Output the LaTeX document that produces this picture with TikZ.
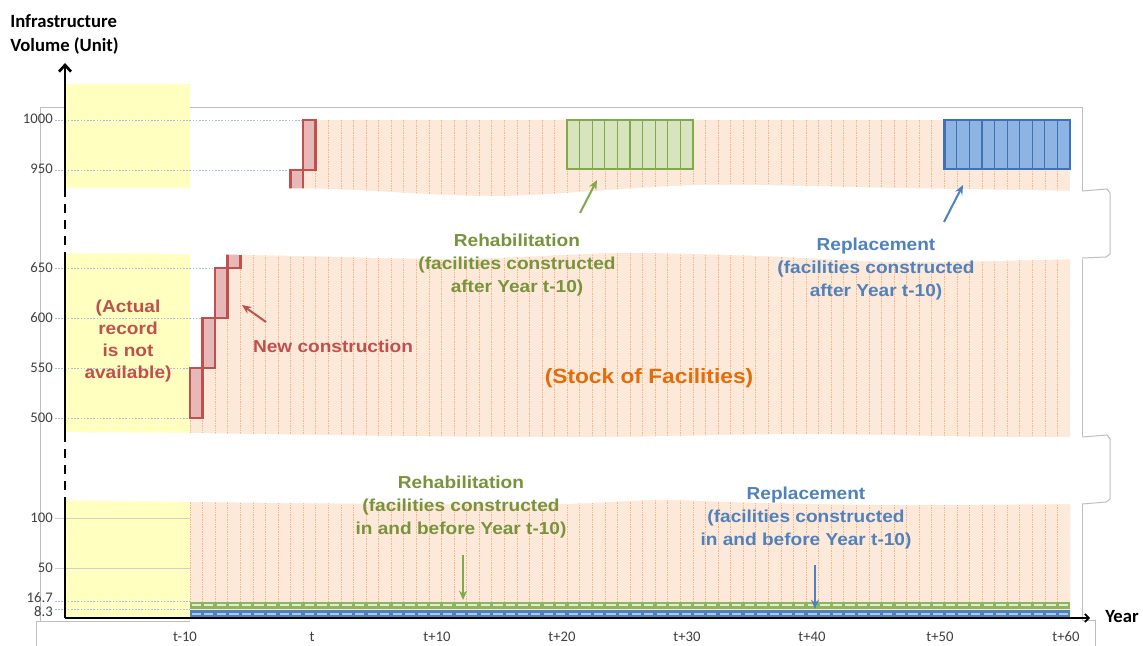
\documentclass[tikz,border=0pt]{standalone}
\usepackage{fontspec}
\setmainfont{Liberation Sans}
\newfontfamily\arb{Liberation Sans}[FakeStretch=1.1]
\newfontfamily\calib{Carlito}
\usetikzlibrary{arrows.meta}
\definecolor{redc}{HTML}{C0504D}
\definecolor{redfill}{HTML}{E6B9B8}
\definecolor{grnc}{HTML}{77933C}
\definecolor{grnb}{HTML}{7FA94A}
\definecolor{grnbar}{HTML}{8DB55A}
\definecolor{grnpale}{HTML}{E3EED0}
\definecolor{grnfill}{HTML}{D7E4BD}
\definecolor{bluc}{HTML}{4F81BD}
\definecolor{blub}{HTML}{3F72B5}
\definecolor{blufill}{HTML}{8EB4E3}
\definecolor{blupale}{HTML}{AFC8EA}
\definecolor{orc}{HTML}{E46C0A}
\definecolor{orfill}{HTML}{FDE9D9}
\definecolor{orline}{HTML}{F5B68C}
\definecolor{yel}{HTML}{FFFFC0}
\definecolor{framec}{HTML}{BFBFBF}
\definecolor{gridb}{HTML}{A9BCE8}
\definecolor{gridg}{HTML}{D0D0D0}
\definecolor{tickc}{HTML}{404040}
\begin{document}
\begin{tikzpicture}[x=0.75pt,y=-0.75pt,
  lbl/.style={font=\arb\bfseries\fontsize{13}{17.6}\selectfont, align=center, inner sep=0pt},
  ytick/.style={font=\calib\fontsize{11}{13}\selectfont, text=tickc, anchor=east, inner sep=0pt},
  xtick/.style={font=\calib\fontsize{11}{13}\selectfont, text=tickc, inner sep=0pt},
  axlbl/.style={font=\calib\bfseries\fontsize{14}{17}\selectfont, inner sep=0pt},
  gridl/.style={draw=gridb, dash pattern=on 1.2pt off 1.2pt, line width=0.6pt},
  grids/.style={draw=gridg, line width=0.5pt},
  yrline/.style={draw=orline, line width=0.45pt, dash pattern=on 1pt off 0.8pt},
  redbox/.style={draw=redc, fill=redfill, line width=2pt},
  ptr/.style={-{Stealth[length=7pt,width=6pt]}, line width=1.5pt},
  framel/.style={draw=framec, line width=0.75pt},
  bardash/.style={line width=1.4pt, dash pattern=on 7pt off 2.43pt},
  axisl/.style={line width=2pt, black}]
\useasboundingbox (0,0) rectangle (1143,646);
\fill[white] (0,0) rectangle (1143,646);
% frame
\draw[framel] (40,107) -- (1082,107) -- (1082,192);
\draw[framel] (1082,258) -- (1082,436);
\draw[framel] (1082,504) -- (1082,620) -- (1095,620) -- (1095,646);
\draw[framel] (36,646) -- (36,621) -- (190,621);
% yellow region
\fill[yel] (65,84) rectangle (190,618);
% orange regions
\fill[orfill] (303.1,120) rectangle (1070,210);
\fill[orfill] (190,445) -- (190,418) -- (202.6,418) -- (202.6,368) -- (215.1,368) -- (215.1,318)
  -- (227.7,318) -- (227.7,268) -- (240.3,268) -- (240.3,240) -- (1070,240) -- (1070,445) -- cycle;
\fill[orfill] (190,490) rectangle (1070,618);
\begin{scope}
  \clip (303.1,120) rectangle (1070,210);
  \foreach \k in {10,...,69} { \pgfmathsetmacro\xx{190+12.5714*\k} \draw[yrline] (\xx,118) -- (\xx,212); }
\end{scope}
\begin{scope}
  \clip (190,445) -- (190,418) -- (202.6,418) -- (202.6,368) -- (215.1,368) -- (215.1,318)
  -- (227.7,318) -- (227.7,268) -- (240.3,268) -- (240.3,240) -- (1070,240) -- (1070,445) -- cycle;
  \foreach \k in {0,...,70} { \pgfmathsetmacro\xx{190+12.5714*\k} \draw[yrline] (\xx,238) -- (\xx,447); }
\end{scope}
\begin{scope}
  \clip (190,490) rectangle (1070,618);
  \foreach \k in {0,...,70} { \pgfmathsetmacro\xx{190+12.5714*\k} \draw[yrline] (\xx,488) -- (\xx,618); }
\end{scope}
% grid lines
\draw[gridl] (55,120) -- (303,120);
\draw[gridl] (55,170) -- (290,170);
\draw[gridl] (55,268) -- (227,268);
\draw[gridl] (55,318) -- (215,318);
\draw[gridl] (55,368) -- (202,368);
\draw[gridl] (55,418) -- (190,418);
\draw[grids] (55,518) -- (190,518);
\draw[grids] (55,568) -- (190,568);
\draw[gridl] (55,601.5) -- (190,601.5);
\draw[gridl] (55,609.5) -- (190,609.5);
% new construction boxes
\draw[redbox] (190,368) rectangle (202.6,418);
\draw[redbox] (202.6,318) rectangle (215.1,368);
\draw[redbox] (215.1,268) rectangle (227.7,318);
\draw[redbox] (227.7,218) rectangle (240.3,268);
\draw[redbox] (290.6,170) rectangle (303.1,222);
\draw[redbox] (303.1,120) rectangle (315.7,170);
% rehabilitation / replacement boxes (after t-10)
\fill[grnfill] (567.1,120) rectangle (692.9,169);
\foreach \k in {31,...,39} { \pgfmathsetmacro\xx{190+12.5714*\k} \draw[grnb, line width=0.8pt] (\xx,120) -- (\xx,169); }
\draw[grnb, line width=2pt] (567.1,120) rectangle (692.9,169);
\fill[blufill] (944.3,120) rectangle (1070,169);
\foreach \k in {61,...,69} { \pgfmathsetmacro\xx{190+12.5714*\k} \draw[blub, line width=0.8pt] (\xx,120) -- (\xx,169); }
\draw[blub, line width=2pt] (944.3,120) rectangle (1070,169);
% bottom bars (in and before t-10)
\fill[grnbar] (190,601.5) rectangle (1070,609);
\draw[bardash, grnpale] (191.5,605.3) -- (1070,605.3);
\fill[bluc] (190,609.8) rectangle (1070,617.5);
\draw[bardash, blupale] (191.5,613.6) -- (1070,613.6);
% white break bands
\fill[white] plot[smooth] coordinates {(38,188) (200,188) (330,189) (500,196) (700,185) (900,188) (1083,191)}
  -- (1107,189) -- (1110,193) -- (1110,254) -- (1106,257) -- (1083,259)
  -- plot[smooth] coordinates {(1083,259) (900,262) (760,256) (620,253) (460,259) (300,256) (190,254) (38,253)} -- cycle;
\fill[white] plot[smooth] coordinates {(38,432) (190,433) (400,436) (600,437) (800,434) (1000,437) (1083,437)}
  -- (1107,435) -- (1110,439) -- (1110,499) -- (1106,502) -- (1083,504)
  -- plot[smooth] coordinates {(1083,504) (900,505) (760,503) (660,500) (560,504) (400,504) (190,502) (38,500)} -- cycle;
\draw[framel] (1082,191) -- (1107,189) -- (1110,193) -- (1110,254) -- (1106,257) -- (1082,258);
\draw[framel] (1082,437) -- (1107,435) -- (1110,439) -- (1110,499) -- (1106,502) -- (1082,504);
\draw[framel] (40,107) -- (40,621);
% axes
\coordinate (yorig) at (65,618);
\coordinate (ytop) at (65,63);
\coordinate (ybrk1a) at (65,188);
\coordinate (ybrk1b) at (65,253);
\coordinate (ybrk2a) at (65,433);
\coordinate (ybrk2b) at (65,500);
\coordinate (xend) at (1090,618);
\draw[axisl, -{Straight Barb[length=5pt,width=9pt]}] (ybrk1a) -- (ytop);
\draw[axisl, dash pattern=on 7pt off 5pt] (ybrk1a) -- (ybrk1b);
\draw[axisl] (ybrk1b) -- (ybrk2a);
\draw[axisl, dash pattern=on 7pt off 5pt] (ybrk2a) -- (ybrk2b);
\draw[axisl] (ybrk2b) -- (yorig);
\draw[line width=1.3pt, black, -{Straight Barb[length=3pt,width=6pt]}] (yorig) -- (xend);
% axis titles
\node[axlbl, anchor=base west] (ttl1) at (10,27) {Infrastructure};
\node[axlbl, anchor=base west] (ttl2) at (10,51) {Volume (Unit)};
\node[axlbl, anchor=base west] (xttl) at (1105,622) {Year};
% y ticks
\node[ytick] (y1000) at (53,119) {1000};
\node[ytick] (y950) at (53,169) {950};
\node[ytick] (y650) at (53,268) {650};
\node[ytick] (y600) at (53,318) {600};
\node[ytick] (y550) at (53,368) {550};
\node[ytick] (y500) at (53,418) {500};
\node[ytick] (y100) at (53,518) {100};
\node[ytick] (y50) at (53,568) {50};
\node[ytick] (y167) at (53,598) {16.7};
\node[ytick] (y83) at (53,612) {8.3};
% x ticks
\node[xtick] (xm10) at (185,637) {t-10};
\node[xtick] (x0) at (312,637) {t};
\node[xtick] (x10) at (437,637) {t+10};
\node[xtick] (x20) at (562,637) {t+20};
\node[xtick] (x30) at (687,637) {t+30};
\node[xtick] (x40) at (812,637) {t+40};
\node[xtick] (x50) at (940,637) {t+50};
\node[xtick] (x60) at (1066,637) {t+60};
% labels
\node[lbl, text=grnc] (rehabA) at (517,265) {Rehabilitation\\(facilities constructed\\after Year t-10)};
\node[lbl, text=bluc] (replA) at (876,269) {Replacement\\(facilities constructed\\after Year t-10)};
\node[lbl, text=grnc] (rehabB) at (461,507) {Rehabilitation\\(facilities constructed\\in and before Year t-10)};
\node[lbl, text=bluc] (replB) at (806,518) {Replacement\\(facilities constructed\\in and before Year t-10)};
\node[lbl, text=redc, font=\arb\bfseries\fontsize{13}{16.3}\selectfont] (actual) at (128,341) {(Actual\\record\\is not\\available)};
\node[lbl, text=redc, anchor=base] (newc) at (333,352) {New construction};
\node[lbl, text=orc, anchor=base, font=\arb\bfseries\fontsize{15.5}{18}\selectfont] (stock) at (649,383) {(Stock of Facilities)};
% pointer arrows
\coordinate (gA1) at (580,213); \coordinate (gA2) at (597,180);
\coordinate (bA1) at (944,222); \coordinate (bA2) at (963,185);
\coordinate (rA1) at (266,322); \coordinate (rA2) at (242,305);
\coordinate (gB1) at (463,555); \coordinate (gB2) at (463,600);
\coordinate (bB1) at (815,565); \coordinate (bB2) at (815,609);
\draw[ptr, grnb] (gA1) -- (gA2);
\draw[ptr, bluc] (bA1) -- (bA2);
\draw[ptr, redc] (rA1) -- (rA2);
\draw[ptr, grnb] (gB1) -- (gB2);
\draw[ptr, bluc] (bB1) -- (bB2);
\end{tikzpicture}
\end{document}
